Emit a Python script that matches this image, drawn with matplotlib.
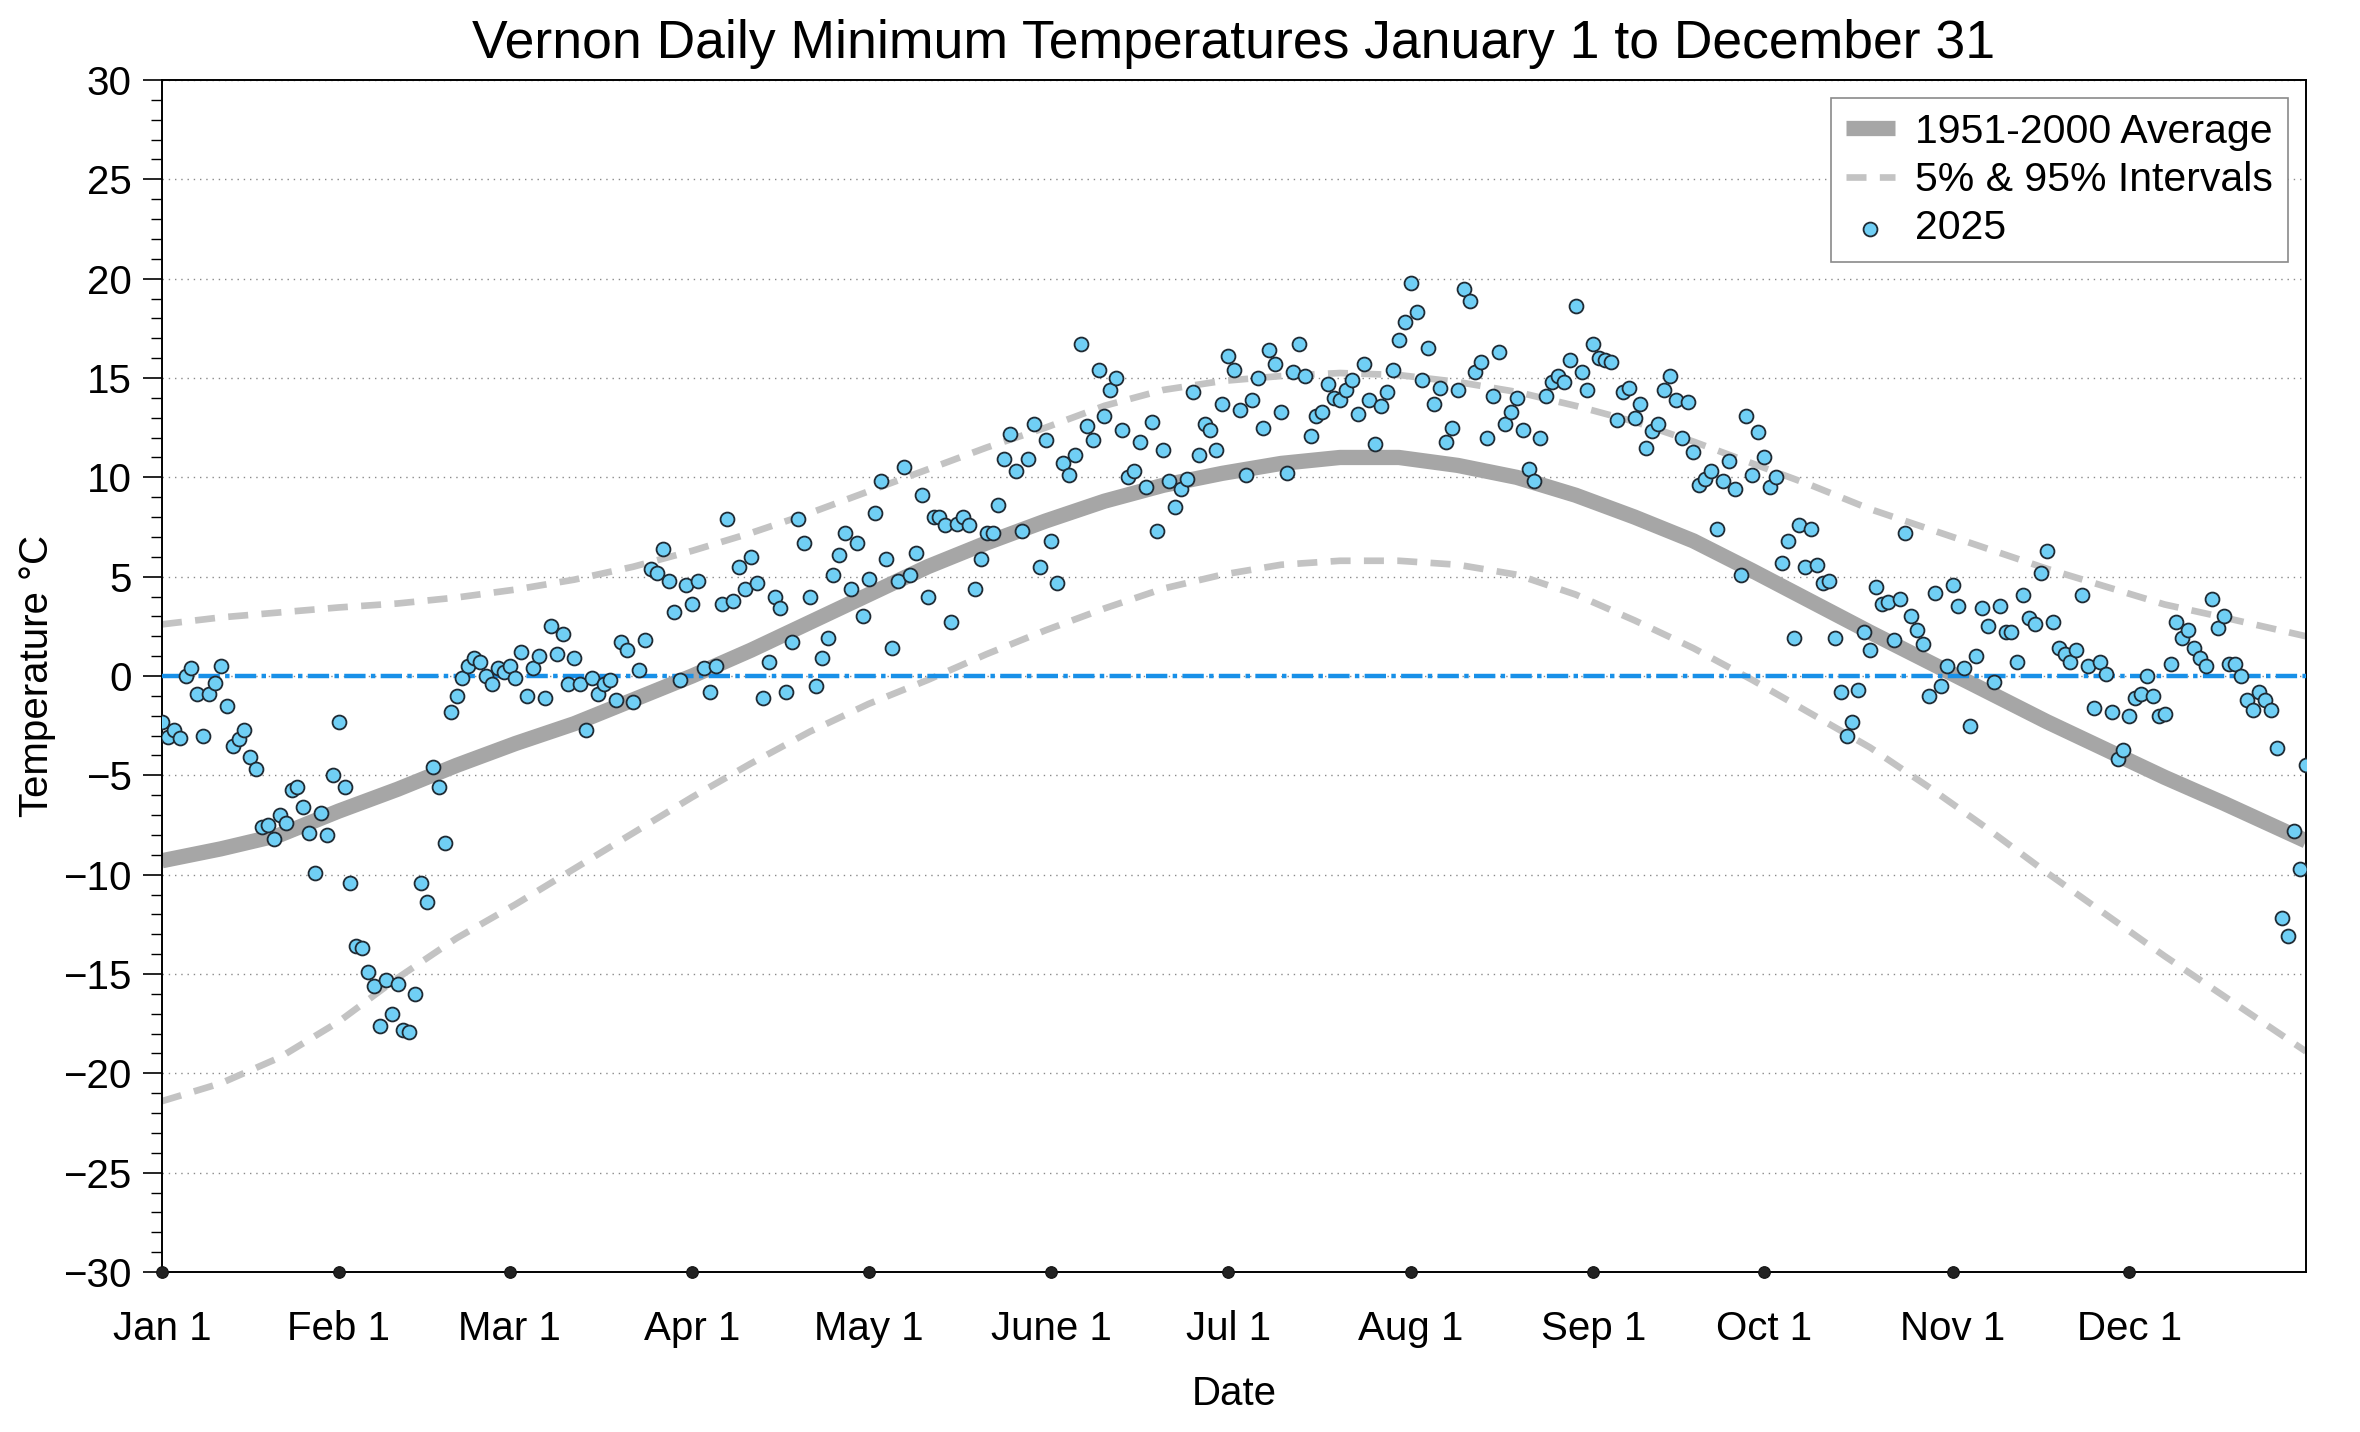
import matplotlib
matplotlib.use('Agg')
import matplotlib.pyplot as plt
import numpy as np

plt.rcParams['font.family'] = ['Liberation Sans', 'DejaVu Sans']

# ---------------- data ----------------
temps_2025 = [
    -2.3, -3.05, -2.7, -3.1, 0.0, 0.4, -0.9, -3.0, -0.9, -0.35,      # Jan 1-10
    0.5, -1.5, -3.5, -3.15, -2.7, -4.1, -4.7, -7.6, -7.5, -8.2,      # Jan 11-20
    -7.0, -7.4, -5.75, -5.6, -6.6, -7.9, -9.9, -6.9, -8.0, -5.0,     # Jan 21-30
    -2.3, -5.6, -10.4, -13.6, -13.7, -14.9, -15.6, -17.6, -15.3, -17.0,
    -15.5, -17.8, -17.9, -16.0, -10.4, -11.4, -4.6, -5.6, -8.4, -1.8,
    -1.0, -0.1, 0.5, 0.9, 0.7, 0.0, -0.4, 0.4, 0.2, 0.5,
    -0.1, 1.2, -1.0, 0.4, 1.0, -1.1, 2.5, 1.1, 2.1, -0.4,
    0.9, -0.4, -2.7, -0.1, -0.9, -0.4, -0.2, -1.2, 1.7, 1.3,
    -1.3, 0.3, 1.8, 5.4, 5.2, 6.4, 4.8, 3.2, -0.2, 4.6,
    3.6, 4.8, 0.4, -0.8, 0.5, 3.6, 7.9, 3.8, 5.5, 4.4,
    6.0, 4.7, -1.1, 0.7, 4.0, 3.4, -0.8, 1.7, 7.9, 6.7,
    4.0, -0.5, 0.9, 1.9, 5.1, 6.1, 7.2, 4.4, 6.7, 3.0,
    4.9, 8.2, 9.8, 5.9, 1.4, 4.8, 10.5, 5.1, 6.2, 9.1,
    4.0, 8.0, 8.0, 7.6, 2.7, 7.65, 8.0, 7.6, 4.4, 5.9,
    7.2, 7.2, 8.6, 10.9, 12.2, 10.3, 7.3, 10.9, 12.7, 5.5,
    11.9, 6.8, 4.7, 10.7, 10.1, 11.1, 16.7, 12.6, 11.9, 15.4,
    13.1, 14.4, 15.0, 12.4, 10.0, 10.3, 11.8, 9.5, 12.8, 7.3,
    11.4, 9.8, 8.5, 9.4, 9.9, 14.3, 11.1, 12.7, 12.4, 11.4,
    13.7, 16.1, 15.4, 13.4, 10.1, 13.9, 15.0, 12.5, 16.4, 15.7,
    13.3, 10.2, 15.3, 16.7, 15.1, 12.1, 13.1, 13.3, 14.7, 14.0,
    13.9, 14.4, 14.9, 13.2, 15.7, 13.9, 11.7, 13.6, 14.3, 15.4,
    16.9, 17.8, 19.8, 18.3, 14.9, 16.5, 13.7, 14.5, 11.8, 12.5,
    14.4, 19.5, 18.9, 15.3, 15.8, 12.0, 14.1, 16.3, 12.7, 13.3,
    14.0, 12.4, 10.4, 9.8, 12.0, 14.1, 14.8, 15.1, 14.8, 15.9,
    18.6, 15.3, 14.4, 16.7, 16.0, 15.9, 15.8, 12.9, 14.3, 14.5,
    13.0, 13.7, 11.5, 12.35, 12.7, 14.4, 15.1, 13.9, 12.0, 13.8,
    11.3, 9.6, 9.9, 10.3, 7.4, 9.8, 10.8, 9.4, 5.1, 13.1,
    10.1, 12.3, 11.0, 9.5, 10.0, 5.7, 6.8, 1.9, 7.6, 5.5,
    7.4, 5.6, 4.7, 4.8, 1.9, -0.8, -3.0, -2.3, -0.7, 2.2,
    1.3, 4.5, 3.6, 3.7, 1.8, 3.9, 7.2, 3.0, 2.3, 1.6,
    -1.0, 4.2, -0.5, 0.5, 4.6, 3.5, 0.4, -2.5, 1.0, 3.4,
    2.5, -0.3, 3.5, 2.2, 2.2, 0.7, 4.1, 2.9, 2.6, 5.2,
    6.3, 2.7, 1.4, 1.1, 0.7, 1.3, 4.1, 0.5, -1.6, 0.7,
    0.1, -1.8, -4.2, -3.7, -2.0, -1.1, -0.9, 0.0, -1.0, -2.0,
    -1.9, 0.6, 2.7, 1.9, 2.3, 1.4, 0.9, 0.5, 3.9, 2.4,
    3.0, 0.6, 0.6, 0.0, -1.2, -1.7, -0.8, -1.2, -1.7, -3.6,
    -12.2, -13.1, -7.8, -9.7, -4.5,
]

curve_days = [0, 10, 20, 30, 40, 50, 60, 70, 80, 90, 100, 110, 120, 130,
              140, 150, 160, 170, 180, 190, 200, 210, 220, 230, 240, 250,
              260, 270, 280, 290, 300, 310, 320, 330, 340, 350, 364]
avg_1951_2000 = [-9.3, -8.7, -8.0, -6.8, -5.7, -4.5, -3.4, -2.4, -1.2, 0.0,
                 1.3, 2.7, 4.1, 5.5, 6.7, 7.8, 8.8, 9.6, 10.2, 10.7,
                 11.0, 11.0, 10.6, 10.0, 9.1, 8.0, 6.8, 5.3, 3.75, 2.2,
                 0.7, -0.8, -2.3, -3.7, -5.1, -6.4, -8.3]
pct_05 = [-21.4, -20.5, -19.2, -17.4, -15.2, -13.2, -11.5, -9.7, -7.9, -6.1,
          -4.4, -2.8, -1.4, -0.2, 1.1, 2.3, 3.4, 4.4, 5.1, 5.6,
          5.8, 5.8, 5.6, 5.1, 4.1, 2.8, 1.4, -0.2, -1.9, -3.6,
          -5.6, -7.7, -9.9, -12.0, -14.1, -16.1, -18.9]
pct_95 = [2.6, 2.95, 3.2, 3.45, 3.65, 3.95, 4.35, 4.85, 5.5, 6.3,
          7.2, 8.2, 9.3, 10.4, 11.5, 12.5, 13.6, 14.4, 14.85, 15.1,
          15.25, 15.15, 14.8, 14.3, 13.6, 12.8, 11.8, 10.7, 9.6, 8.4,
          7.4, 6.4, 5.4, 4.5, 3.6, 2.95, 2.0]

month_ticks = [0, 30, 59, 90, 120, 151, 181, 212, 243, 272, 304, 334]
month_labels = ['Jan 1', 'Feb 1', 'Mar 1', 'Apr 1', 'May 1', 'June 1',
                'Jul 1', 'Aug 1', 'Sep 1', 'Oct 1', 'Nov 1', 'Dec 1']
y_major = list(range(-30, 31, 5))
y_minor = list(range(-30, 31, 1))

days = np.arange(len(temps_2025))

# ---------------- figure ----------------
W, H = 2360, 1432
fig = plt.figure(figsize=(W / 100, H / 100), dpi=100)
L, R, T, B = 162, 2306, 80, 1272
ax = fig.add_axes([L / W, 1 - B / H, (R - L) / W, (B - T) / H])

FS = 29

ax.yaxis.grid(True, which='major', color='#8a8a8a', lw=1.0, linestyle=(0, (1, 3.5)))
ax.set_axisbelow(True)

ax.plot(curve_days, avg_1951_2000, color='#a6a6a6', lw=11, solid_capstyle='butt',
        solid_joinstyle='round', label='1951-2000 Average', zorder=2)
ax.plot(curve_days, pct_95, color='#c3c3c3', lw=4.8, dashes=[3, 2],
        label='5% & 95% Intervals', zorder=2)
ax.plot(curve_days, pct_05, color='#c3c3c3', lw=4.8, dashes=[3, 2], zorder=2)
ax.axhline(0, color='#1890e8', lw=3.2, dashes=[4.8, 1.2, 1.0, 1.2], zorder=3)
ax.scatter(days, temps_2025, s=100, c='#70cff5', edgecolors='#1f2a33',
           linewidths=1.3, zorder=4, label='2025')

# month markers on the bottom spine
ax.scatter(month_ticks, [-30] * len(month_ticks), s=70, c='#222222',
           edgecolors='#111111', linewidths=0.8, zorder=6, clip_on=False)

ax.set_xlim(0, 364)
ax.set_ylim(-30, 30)

ax.set_xticks(month_ticks)
ax.set_xticklabels(month_labels)
ax.tick_params(axis='x', which='both', length=0, pad=27, labelsize=FS)
ax.set_yticks(y_major)
ax.set_yticks(y_minor, minor=True)
ax.tick_params(axis='y', which='major', length=14, width=1.2, pad=8,
               labelsize=FS, direction='out')
ax.tick_params(axis='y', which='minor', length=8, width=1.0, direction='out')

for s in ax.spines.values():
    s.set_linewidth(1.4)
    s.set_color('black')

ax.set_xlabel('Date', fontsize=FS, labelpad=20)
ax.set_ylabel('Temperature °C', fontsize=FS, labelpad=5)

fig.text((L + R) / 2 / W, 1 - 44 / H,
         'Vernon Daily Minimum Temperatures January 1 to December 31',
         ha='center', va='center', fontsize=38.5)

leg = ax.legend(loc='upper right', fontsize=29.5, frameon=True, fancybox=False,
                edgecolor='#8a8a8a', framealpha=1, handlelength=1.2,
                handletextpad=0.5, labelspacing=0.25, borderpad=0.35,
                borderaxespad=0.45, scatterpoints=1)
leg.get_frame().set_linewidth(1.2)

fig.savefig('out.png', dpi=100)
